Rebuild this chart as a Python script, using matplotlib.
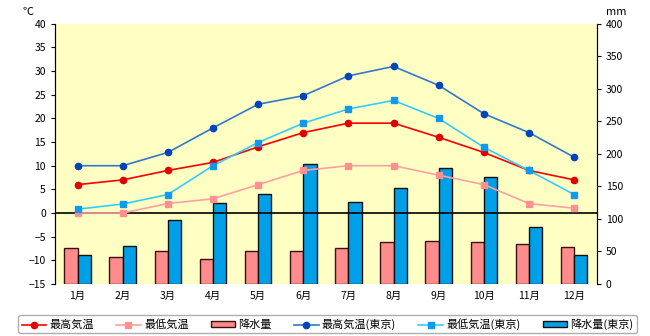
import matplotlib.pyplot as plt
from matplotlib.patches import Patch
from matplotlib.lines import Line2D
import numpy as np

plt.rcParams['font.family'] = ['Noto Sans CJK JP', 'DejaVu Sans']

months = ['1月', '2月', '3月', '4月', '5月', '6月', '7月', '8月', '9月', '10月', '11月', '12月']

# local city
temp_high = [6, 7, 9, 10.7, 14, 17, 19, 19, 16, 12.8, 9, 7]
temp_low = [0, 0, 2, 3, 6, 9, 10, 10, 8, 6, 2, 1]
precip = [56, 41, 50, 39, 50, 50, 56, 65, 66, 65, 62, 57]

# Tokyo
tokyo_high = [10, 10, 12.8, 18, 23, 24.8, 29, 31, 27, 21, 17, 11.8]
tokyo_low = [0.8, 1.9, 3.9, 10, 14.9, 19, 22, 23.8, 20, 13.9, 9, 3.9]
tokyo_precip = [44, 59, 99, 124, 138, 184, 126, 147, 179, 164, 88, 45]

x = np.arange(len(months))
w = 0.295

fig = plt.figure(figsize=(6.5, 3.36), dpi=100)
ax_p = fig.add_axes([0.0846, 0.155, 0.8334, 0.774])
ax_p.set_facecolor('#FFFFC4')
ax_t = ax_p.twinx()
ax_t.set_facecolor('none')

# precipitation bars (right axis)
ax_p.bar(x - w / 2, precip, w, color='#FF8C8C', edgecolor='#3a1010', linewidth=1)
ax_p.bar(x + w / 2, tokyo_precip, w, color='#00A0E8', edgecolor='#101010', linewidth=1)
ax_p.set_ylim(0, 400)
ax_p.set_yticks(range(0, 401, 50))
ax_p.yaxis.tick_right()
ax_p.set_xlim(-0.5, 11.5)
ax_p.set_xticks(x)
ax_p.set_xticklabels(months)
ax_p.tick_params(axis='x', length=0, labelsize=7.5, pad=5)
ax_p.tick_params(axis='y', labelsize=7.5, length=3, direction='out')

# temperature lines (left axis)
ax_t.axhline(0, color='black', linewidth=1.2, zorder=1)
ax_t.plot(x, temp_low, color='#FFA0A0', linewidth=1.2, marker='s', markersize=4.5,
          markerfacecolor='#FF9090', markeredgecolor='#FF9090')
ax_t.plot(x, temp_high, color='#FF0000', linewidth=1.2, marker='o', markersize=4.5,
          markerfacecolor='#E00000', markeredgecolor='#E00000')
ax_t.plot(x, tokyo_low, color='#33CCFF', linewidth=1.2, marker='s', markersize=4.5,
          markerfacecolor='#1199EE', markeredgecolor='#1199EE')
ax_t.plot(x, tokyo_high, color='#3377CC', linewidth=1.2, marker='o', markersize=4.5,
          markerfacecolor='#0044BB', markeredgecolor='#0044BB')
ax_t.set_ylim(-15, 40)
ax_t.set_yticks(range(-15, 41, 5))
ax_t.yaxis.tick_left()
ax_t.tick_params(axis='y', labelsize=7.5, length=3, direction='out')

for a in (ax_p, ax_t):
    a.spines['top'].set_visible(False)
    a.spines['bottom'].set_visible(False)
    a.spines['left'].set_color('black')
    a.spines['right'].set_color('black')

fig.text(0.043, 0.965, '℃', fontsize=8, ha='center', va='center')
fig.text(0.948, 0.965, 'mm', fontsize=8, ha='center', va='center')

handles = [
    Line2D([], [], color='#FF0000', marker='o', markersize=4.5, markerfacecolor='#E00000',
           markeredgecolor='#E00000', linewidth=1.2),
    Line2D([], [], color='#FFA0A0', marker='s', markersize=4.5, markerfacecolor='#FF9090',
           markeredgecolor='#FF9090', linewidth=1.2),
    Patch(facecolor='#FF8C8C', edgecolor='#3a1010', linewidth=1),
    Line2D([], [], color='#3377CC', marker='o', markersize=4.5, markerfacecolor='#0044BB',
           markeredgecolor='#0044BB', linewidth=1.2),
    Line2D([], [], color='#33CCFF', marker='s', markersize=4.5, markerfacecolor='#1199EE',
           markeredgecolor='#1199EE', linewidth=1.2),
    Patch(facecolor='#00A0E8', edgecolor='#101010', linewidth=1),
]
labels = ['最高気温', '最低気温', '降水量', '最高気温(東京)', '最低気温(東京)', '降水量(東京)']
leg = fig.legend(handles, labels, loc='center', bbox_to_anchor=(0.504, 0.035), ncol=6,
                 fontsize=8, frameon=True, fancybox=True, edgecolor='#999999',
                 handlelength=2.2, handleheight=0.45, handletextpad=0.3, columnspacing=2.0,
                 borderpad=0.3, numpoints=1)
leg.get_frame().set_linewidth(1)

fig.savefig('out.png', dpi=100)
